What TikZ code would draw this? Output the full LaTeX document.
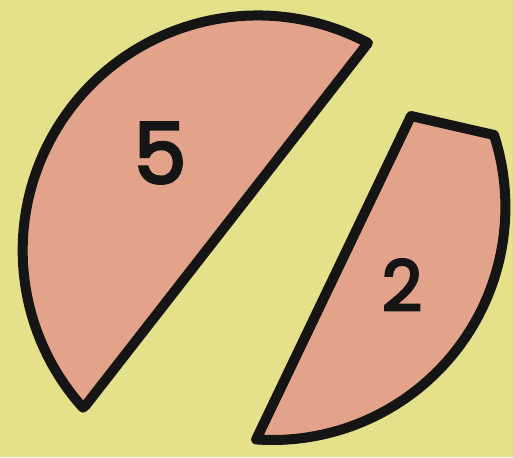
\documentclass[tikz,border=0pt]{standalone}
\usepackage{fontspec}
\setmainfont{Poppins}
\newfontfamily\digitfont{Poppins}[FakeBold=3.5]
\definecolor{bgyellow}{HTML}{E5E18A}
\definecolor{piecefill}{HTML}{E3A38B}
\definecolor{inkline}{HTML}{151515}
\begin{document}
\begin{tikzpicture}[x=1pt,y=1pt,
  piece/.style={fill=piecefill,draw=inkline,line width=10pt,line join=round},
  digit/.style={font=\digitfont\fontsize{#1}{#1}\selectfont,text=inkline,inner sep=0pt}]
\fill[bgyellow] (0,0) rectangle (513,457);
\useasboundingbox (0,0) rectangle (513,457);
% big piece (5)
\draw[piece] (86,52) -- (368,414) arc[start angle=62,end angle=222,radius=235] -- cycle;
% small piece (2)
\draw[piece] (411,341) -- (494,322) arc[start angle=18,end angle=-94,radius=233] -- cycle;
\node[digit=84] (five) at (160,304) {5};
\node[digit=70] (two) at (402,172) {2};
\end{tikzpicture}
\end{document}
